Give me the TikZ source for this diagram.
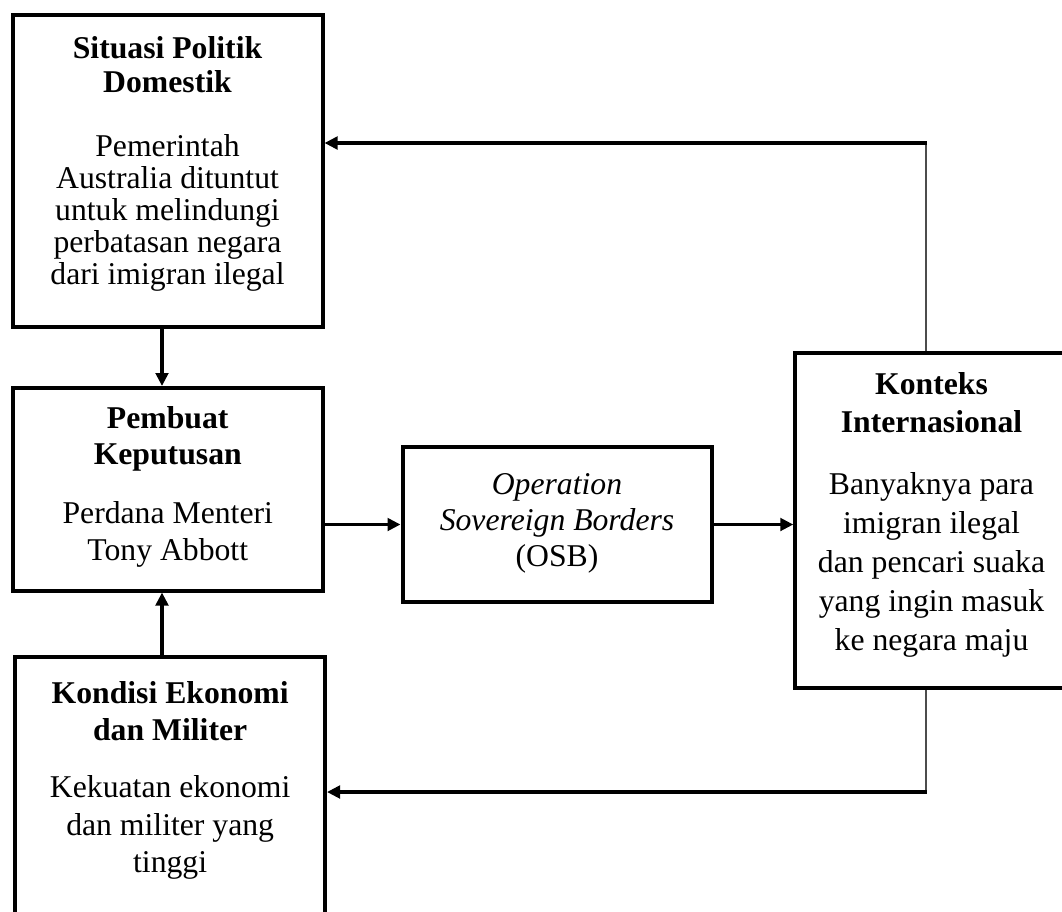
\documentclass[tikz,border=0pt]{standalone}
\usepackage{fontspec}
\setmainfont{Liberation Serif}
\usetikzlibrary{arrows.meta}
\begin{document}
\begin{tikzpicture}[x=1pt,y=-1pt,
  box/.style={draw=black, line width=4pt, rectangle, inner sep=0pt},
  hd/.style={anchor=base, font=\fontsize{31.7}{38}\selectfont\bfseries, inner sep=0pt},
  tx/.style={anchor=base, font=\fontsize{31.7}{38}\selectfont, inner sep=0pt},
  arr/.style={line width=3.3pt, -{Triangle[length=13pt,width=12.5pt]}},
  thinline/.style={line width=1.1pt, draw=black!70}]
\useasboundingbox (0,0) rectangle (1062,911);
\clip (0,0) rectangle (1062,911);
% boxes
\node[box, minimum width=310pt, minimum height=312pt] (b1) at (167.5,171) {};
\node[box, minimum width=309.5pt, minimum height=202.5pt] (b2) at (167.75,489.25) {};
\node[box, minimum width=309pt, minimum height=155pt] (osb) at (557,524.5) {};
\node[box, minimum width=271.7pt, minimum height=335.5pt] (b4) at (931.15,520.25) {};
\node[box, minimum width=309.7pt, minimum height=303pt] (b5) at (170.15,808.5) {};
% box 1 text
\node[hd] (t1a) at (167.5,58) {Situasi Politik};
\node[hd] (t1b) at (167.5,92) {Domestik};
\node[tx] (t1c) at (167.5,156) {Pemerintah};
\node[tx] (t1d) at (167.5,188) {Australia dituntut};
\node[tx] (t1e) at (167.5,220) {untuk melindungi};
\node[tx] (t1f) at (167.5,252) {perbatasan negara};
\node[tx] (t1g) at (167.5,284) {dari imigran ilegal};
% box 2 text
\node[hd] (t2a) at (167.75,428) {Pembuat};
\node[hd] (t2b) at (167.75,464) {Keputusan};
\node[tx] (t2c) at (167.75,523) {Perdana Menteri};
\node[tx] (t2d) at (167.75,560) {Tony Abbott};
% OSB text
\node[tx] (t3a) at (557,494) {\itshape Operation};
\node[tx] (t3b) at (557,530) {\itshape Sovereign Borders};
\node[tx] (t3c) at (557,566) {(OSB)};
% box 4 text
\node[hd] (t4a) at (931.5,394) {Konteks};
\node[hd] (t4b) at (931.5,432) {Internasional};
\node[tx] (t4c) at (931.5,494) {Banyaknya para};
\node[tx] (t4d) at (931.5,533) {imigran ilegal};
\node[tx] (t4e) at (931.5,572) {dan pencari suaka};
\node[tx] (t4f) at (931.5,611) {yang ingin masuk};
\node[tx] (t4g) at (931.5,650) {ke negara maju};
% box 5 text
\node[hd] (t5a) at (170.15,703) {Kondisi Ekonomi};
\node[hd] (t5b) at (170.15,740) {dan Militer};
\node[tx] (t5c) at (170.15,797) {Kekuatan ekonomi};
\node[tx] (t5d) at (170.15,835) {dan militer yang};
\node[tx] (t5e) at (170.15,872) {tinggi};
% connectors
\coordinate (ax) at (162,0);
\coordinate (c1) at (926,143);
\coordinate (c2) at (926,792);
\draw[arr] (b1.south -| ax) -- (b2.north -| ax);
\draw[arr] (b5.north -| ax) -- (b2.south -| ax);
\draw[arr] (b2.east |- osb.west) -- (osb.west);
\draw[arr] (osb.east) -- (osb.east -| b4.west);
\draw[thinline] (b4.north -| c1) -- (c1);
\draw[arr] ([xshift=0.5pt]c1) -- (c1 -| b1.east);
\draw[thinline] (b4.south -| c2) -- (c2);
\draw[arr] ([xshift=0.5pt]c2) -- (c2 -| b5.east);
\end{tikzpicture}
\end{document}
